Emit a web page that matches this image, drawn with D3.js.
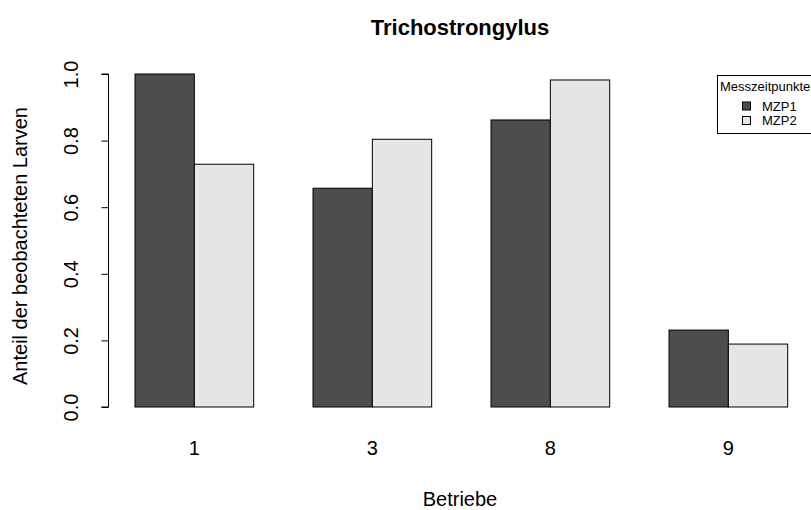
<!DOCTYPE html>
<html><head><meta charset="utf-8">
<script src="https://cdn.jsdelivr.net/npm/d3@7"></script>
<style>body{margin:0;background:#fff}svg{display:block;font-family:"Liberation Sans",Arial,sans-serif}</style>
</head><body>
<svg id="c" width="811" height="510"></svg>
<script>
const categories = ["1", "3", "8", "9"];
const seriesNames = ["MZP1", "MZP2"];
const mzp1 = [1.0, 0.657, 0.862, 0.231];
const mzp2 = [0.729, 0.804, 0.982, 0.189];
const yTicks = [0, 0.2, 0.4, 0.6, 0.8, 1.0];
const colors = ["#4d4d4d", "#e6e6e6"];

const svg = d3.select("#c");
// units like R barplot(beside=TRUE): space 1 before each group, bar width 1
const x = d3.scaleLinear().domain([0.56, 12.44]).range([108.9, 813.8]);
const y = d3.scaleLinear().domain([0, 1]).range([407, 74]);

const series = [mzp1, mzp2];
categories.forEach((c, i) => {
  series.forEach((s, j) => {
    const left = i * 3 + 1 + j;
    svg.append("rect")
      .attr("x", x(left)).attr("width", x(left + 1) - x(left))
      .attr("y", y(s[i])).attr("height", y(0) - y(s[i]))
      .attr("fill", colors[j]).attr("stroke", "#000").attr("stroke-width", 1);
  });
  svg.append("text").attr("x", x(i * 3 + 2)).attr("y", 455)
    .attr("text-anchor", "middle").attr("font-size", 20).text(c);
});

// y axis
const ax = svg.append("g").attr("transform", "translate(108.5,0)")
  .call(d3.axisLeft(y).tickValues(yTicks).tickSize(7).tickFormat(d3.format(".1f")));
ax.select(".domain").attr("d", `M-7,${y(0)}H0V${y(1)}H-7`).attr("stroke", "#000");
ax.selectAll(".tick line").attr("stroke", "#000");
ax.selectAll(".tick text").attr("x", 0).attr("dy", 0).attr("font-size", 20)
  .attr("fill", "#000").attr("font-family", "Liberation Sans, Arial, sans-serif")
  .attr("text-anchor", "middle").attr("transform", "translate(-31,0) rotate(-90)");

// titles
svg.append("text").attr("x", 460).attr("y", 35).attr("text-anchor", "middle")
  .attr("font-size", 22).attr("font-weight", "bold").text("Trichostrongylus");
svg.append("text").attr("x", 460).attr("y", 506).attr("text-anchor", "middle")
  .attr("font-size", 20).text("Betriebe");
svg.append("text").attr("transform", "translate(27,246) rotate(-90)")
  .attr("text-anchor", "middle").attr("font-size", 20).text("Anteil der beobachteten Larven");

// legend
const lg = svg.append("g");
lg.append("rect").attr("x", 717.5).attr("y", 75.5).attr("width", 110).attr("height", 58)
  .attr("fill", "#fff").attr("stroke", "#000");
lg.append("text").attr("x", 720).attr("y", 91).attr("font-size", 13).text("Messzeitpunkte");
seriesNames.forEach((n, j) => {
  const cy = 106 + j * 14.5;
  lg.append("rect").attr("x", 742.5).attr("y", cy - 4).attr("width", 8).attr("height", 8)
    .attr("fill", colors[j]).attr("stroke", "#000");
  lg.append("text").attr("x", 762).attr("y", cy + 4.5).attr("font-size", 13).text(n);
});
</script>
</body></html>
